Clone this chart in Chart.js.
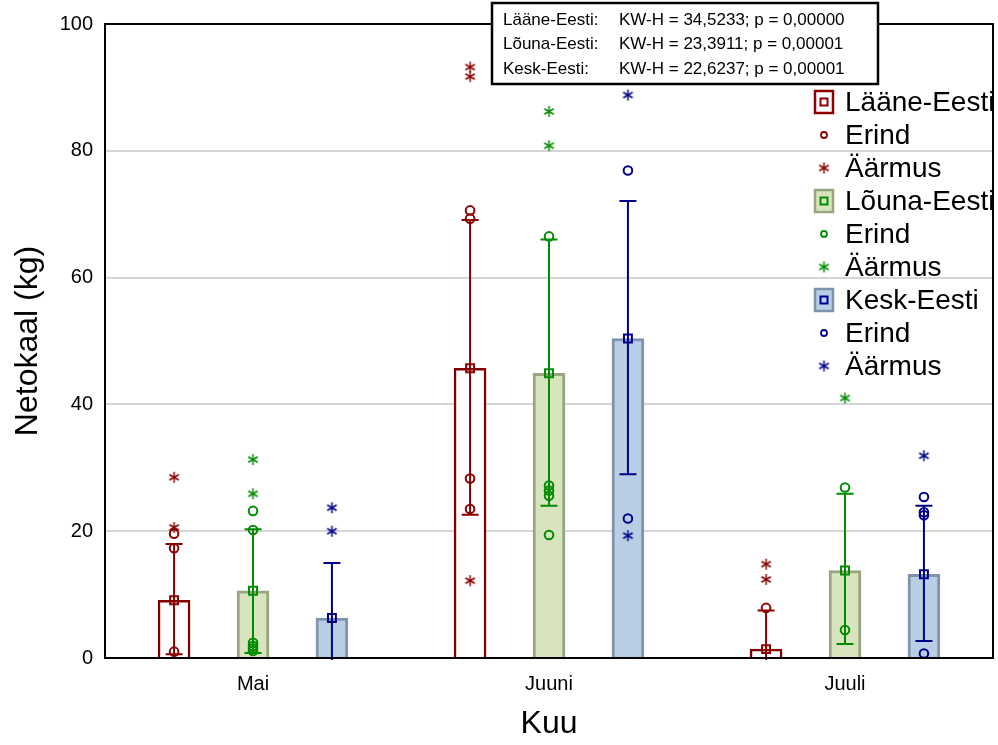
<!DOCTYPE html>
<html>
<head>
<meta charset="utf-8">
<script src="https://cdn.jsdelivr.net/npm/chart.js@4.4.0/dist/chart.umd.min.js"></script>
<style>
  html, body { margin: 0; padding: 0; background: #fff; }
  #wrap { width: 998px; height: 745px; }
</style>
</head>
<body>
<div id="wrap"><canvas id="netokaal"></canvas></div>
<script>
const FONT = "'Liberation Sans', Arial, sans-serif";

const categories = ['Mai', 'Juuni', 'Juuli'];
const yTicks = [0, 20, 40, 60, 80, 100];

// medians (bar height and square marker)
const laaneMedian = [9.1, 45.7, 1.4];
const lounaMedian = [10.6, 44.9, 13.8];
const keskMedian = [6.3, 50.4, 13.2];

// non-outlier range
const laaneLow = [0.6, 22.6, 0];
const laaneHigh = [18.0, 69.1, 7.5];
const lounaLow = [0.8, 24.0, 2.2];
const lounaHigh = [20.3, 66.0, 25.9];
const keskLow = [0, 29.0, 2.7];
const keskHigh = [15.0, 72.1, 24.0];

// [month index, value]
const laaneErind = [[0, 1.0], [0, 17.3], [0, 19.6], [1, 70.6], [1, 69.3], [1, 28.3], [1, 23.5], [2, 7.9]];
const laaneAarmus = [[0, 20.6], [0, 28.5], [1, 93.2], [1, 91.7], [1, 12.2], [2, 14.8], [2, 12.4]];
const lounaErind = [[0, 1.1], [0, 1.5], [0, 1.9], [0, 2.4], [0, 20.2], [0, 23.2], [1, 66.5], [1, 27.2], [1, 26.4], [1, 25.6], [1, 19.4], [2, 26.9], [2, 4.4]];
const lounaAarmus = [[0, 25.9], [0, 31.3], [1, 86.2], [1, 80.8], [2, 41.0]];
const keskErind = [[1, 76.9], [1, 22.0], [2, 25.4], [2, 23.0], [2, 22.5], [2, 0.7]];
const keskAarmus = [[0, 23.7], [0, 20.0], [1, 88.8], [1, 19.3], [2, 31.9]];

const statsLines = [
  ['Lääne-Eesti:', 'KW-H = 34,5233; p = 0,00000'],
  ['Lõuna-Eesti:', 'KW-H = 23,3911; p = 0,00001'],
  ['Kesk-Eesti:', 'KW-H = 22,6237; p = 0,00001']
];

const regions = [
  { name: 'Lääne-Eesti', median: laaneMedian, low: laaneLow, high: laaneHigh, erind: laaneErind, aarmus: laaneAarmus,
    fill: '#ffffff', edge: '#800000', ink: '#8b0000' },
  { name: 'Lõuna-Eesti', median: lounaMedian, low: lounaLow, high: lounaHigh, erind: lounaErind, aarmus: lounaAarmus,
    fill: '#d7e4bd', edge: '#98a57e', ink: '#008c00' },
  { name: 'Kesk-Eesti', median: keskMedian, low: keskLow, high: keskHigh, erind: keskErind, aarmus: keskAarmus,
    fill: '#b9cde5', edge: '#7f93ad', ink: '#00008c' }
];

// each month slot holds three bars, each a third of 80 % of the slot
const CAT_PCT = 0.8;
const slotX = (i, r) => i + (r - 1) * CAT_PCT / 3;

// small six-spoke asterisk used for extremes
function asterisk(color) {
  const c = document.createElement('canvas');
  c.width = 13; c.height = 13;
  const g = c.getContext('2d');
  g.strokeStyle = color;
  g.lineWidth = 1.5;
  const r = 5.5;
  for (let k = 0; k < 3; k++) {
    const a = Math.PI / 2 + k * Math.PI / 3;
    g.beginPath();
    g.moveTo(6.5 - r * Math.cos(a), 6.5 - r * Math.sin(a));
    g.lineTo(6.5 + r * Math.cos(a), 6.5 + r * Math.sin(a));
    g.stroke();
  }
  return c;
}
regions.forEach(r => { r.star = asterisk(r.ink); });

const datasets = [];
regions.forEach((r, ri) => {
  datasets.push({
    type: 'bar', label: r.name,
    data: r.median.map((v, i) => ({ x: slotX(i, ri), y: v })),
    backgroundColor: r.fill, borderColor: r.edge, borderWidth: ri === 0 ? 2.5 : 3,
    barThickness: 32, grouped: false,
    xAxisID: 'xp', yAxisID: 'y', order: 3
  });
});
regions.forEach((r, ri) => {
  datasets.push({
    type: 'scatter', label: r.name + ' mediaan',
    data: r.median.map((v, i) => ({ x: slotX(i, ri), y: v })),
    pointStyle: 'rect', radius: 5.6, borderWidth: 2, borderColor: r.ink, backgroundColor: 'rgba(0,0,0,0)',
    xAxisID: 'xp', yAxisID: 'y', order: 1
  });
  datasets.push({
    type: 'scatter', label: 'Erind',
    data: r.erind.map(([i, v]) => ({ x: slotX(i, ri), y: v })),
    pointStyle: 'circle', radius: 4.3, borderWidth: 2, borderColor: r.ink, backgroundColor: 'rgba(0,0,0,0)',
    xAxisID: 'xp', yAxisID: 'y', order: 1
  });
  datasets.push({
    type: 'scatter', label: 'Äärmus',
    data: r.aarmus.map(([i, v]) => ({ x: slotX(i, ri), y: v })),
    pointStyle: r.star, radius: 5,
    xAxisID: 'xp', yAxisID: 'y', order: 1
  });
});

// whiskers on top of each region's bars
const whiskers = {
  id: 'whiskers',
  afterDatasetDraw(chart, args) {
    if (args.index > 2) return;
    const r = regions[args.index];
    const ctx = chart.ctx, xs = chart.scales.xp, ys = chart.scales.y;
    ctx.save();
    ctx.strokeStyle = r.ink;
    ctx.lineWidth = 2;
    r.median.forEach((_, i) => {
      const x = xs.getPixelForValue(slotX(i, args.index));
      const top = ys.getPixelForValue(r.high[i]);
      const bot = ys.getPixelForValue(r.low[i]) + (r.low[i] === 0 ? 2 : 0);
      ctx.beginPath();
      ctx.moveTo(x, top); ctx.lineTo(x, bot);
      ctx.moveTo(x - 8.5, top); ctx.lineTo(x + 8.5, top);
      if (r.low[i] > 0) { ctx.moveTo(x - 8.5, bot); ctx.lineTo(x + 8.5, bot); }
      ctx.stroke();
    });
    ctx.restore();
  }
};

// legend, plot frame and Kruskal-Wallis box
const overlay = {
  id: 'overlay',
  afterDraw(chart) {
    const ctx = chart.ctx, a = chart.chartArea;
    ctx.save();
    ctx.font = '28px ' + FONT;
    ctx.textBaseline = 'middle';
    let y = 102;
    const ix = 824;
    regions.forEach((r, ri) => {
      ctx.fillStyle = r.fill;
      ctx.fillRect(ix - 9, y - 11, 18, 22);
      ctx.strokeStyle = ri === 0 ? r.ink : r.edge;
      ctx.lineWidth = 2.5;
      ctx.strokeRect(ix - 9, y - 11, 18, 22);
      ctx.strokeStyle = r.ink;
      ctx.lineWidth = 2;
      ctx.strokeRect(ix - 3.5, y - 3.5, 7, 7);
      ctx.fillStyle = '#000';
      ctx.fillText(r.name, 845, y + 1);
      y += 33;
      ctx.strokeStyle = r.ink;
      ctx.lineWidth = 1.8;
      ctx.beginPath();
      ctx.arc(ix, y, 3, 0, Math.PI * 2);
      ctx.stroke();
      ctx.fillText('Erind', 845, y + 1);
      y += 33;
      ctx.drawImage(r.star, ix - 6.5, y - 6.5);
      ctx.fillText('Äärmus', 845, y + 1);
      y += 33;
    });

    ctx.strokeStyle = '#000';
    ctx.lineWidth = 2;
    ctx.strokeRect(a.left, a.top, a.right - a.left, a.bottom - a.top);

    ctx.fillStyle = '#fff';
    ctx.fillRect(492, 3, 386, 81);
    ctx.lineWidth = 2.5;
    ctx.strokeRect(492, 3, 386, 81);
    ctx.fillStyle = '#000';
    ctx.font = '17px ' + FONT;
    statsLines.forEach(([lab, txt], k) => {
      const ty = 20 + k * 24.5;
      ctx.fillText(lab, 503, ty);
      ctx.fillText(txt, 619, ty);
    });
    ctx.restore();
  }
};

new Chart(document.getElementById('netokaal'), {
  type: 'bar',
  data: { labels: categories, datasets: datasets },
  options: {
    responsive: true,
    maintainAspectRatio: false,
    animation: false,
    events: [],
    layout: { autoPadding: false, padding: { top: 22, right: 5, left: 0, bottom: 0 } },
    plugins: { legend: { display: false }, tooltip: { enabled: false } },
    scales: {
      x: {
        type: 'category',
        offset: true,
        grid: { display: false, drawTicks: false },
        border: { color: '#000', width: 2 },
        ticks: { color: '#000', font: { family: FONT, size: 20 }, padding: 14 },
        title: { display: true, text: 'Kuu', color: '#000', font: { family: FONT, size: 32 }, padding: { top: 4, bottom: 2 } },
        afterFit(s) { s.height = 87; }
      },
      xp: {
        type: 'linear', display: false, min: -0.5, max: 2.5, offset: false
      },
      y: {
        min: 0, max: 100,
        afterBuildTicks(s) { s.ticks = yTicks.map(v => ({ value: v })); },
        grid: { color: '#d6d6d6', lineWidth: 2, drawTicks: false },
        border: { color: '#000', width: 2 },
        ticks: { color: '#000', font: { family: FONT, size: 20 }, padding: 12 },
        title: { display: true, text: 'Netokaal (kg)', color: '#000', font: { family: FONT, size: 32 }, padding: { top: 9, bottom: 9 } },
        afterFit(s) { s.width = 105; }
      }
    }
  },
  plugins: [whiskers, overlay]
});
</script>
</body>
</html>
